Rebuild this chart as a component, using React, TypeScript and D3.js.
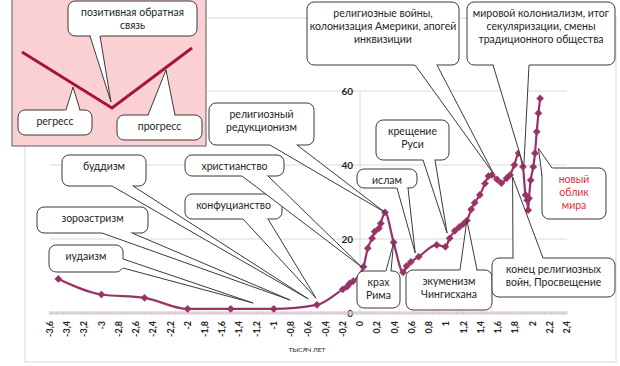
import React from "react";
import * as d3 from "d3";

// ---- data (thousands of years, index value) ----
const years: number[] = [
  -3.5, -3.0, -2.5, -2.0, -1.5, -1.0, -0.5, -0.2, -0.15, -0.12, -0.08, 0.04, 0.09, 0.14, 0.17, 0.22,
  0.24, 0.29, 0.39, 0.5, 0.54, 0.59, 0.68, 0.89, 0.99, 1.04, 1.1, 1.15, 1.2, 1.24, 1.29, 1.33, 1.39,
  1.45, 1.49, 1.53, 1.59, 1.64, 1.7, 1.74, 1.79, 1.84, 1.89, 1.92, 1.94, 1.95, 1.96, 1.98, 2.01,
  2.03, 2.05, 2.07, 2.09,
];
const values: number[] = [
  9.2, 5.0, 4.1, 1.1, 1.1, 1.1, 2.2, 6.4, 7.1, 8.0, 8.6, 12.5, 17.5, 20.2, 22.0, 22.9,
  24.2, 27.2, 19.1, 11.0, 12.7, 13.8, 15.2, 18.4, 17.9, 20.2, 22.2, 23.2, 24.1, 25.0, 28.0, 29.8, 31.9,
  35.0, 37.0, 37.3, 36.1, 35.1, 36.4, 37.3, 40.0, 43.2, 39.5, 31.9, 30.5, 27.8, 31.0, 35.9, 39.5,
  43.2, 49.0, 54.0, 58.0,
];
const xTicks: number[] = d3.range(-18, 13).map((i) => i / 5);
const yTicks: number[] = [0, 20, 40, 60];
const yGrid: number[] = [20, 40, 60];

// callouts: text, tip in data units (t, v)
const calloutTexts: string[][] = [
  ["иудаизм"],
  ["зороастризм"],
  ["буддизм"],
  ["конфуцианство"],
  ["христианство"],
  ["религиозный", "редукционизм"],
  ["ислам"],
  ["крещение", "Руси"],
  ["крах", "Рима"],
  ["экуменизм", "Чингисхана"],
  ["конец религиозных", "войн, Просвещение"],
  ["новый", "облик", "мира"],
  ["религиозные войны,", "колонизация Америки, апогей", "инквизиции"],
  ["мировой колониализм, итог", "секуляризации, смены", "традиционного общества"],
];
const calloutTips: [number, number][] = [
  [-1.24, 2.7],
  [-0.81, 3.5],
  [-0.6, 3.8],
  [-0.51, 4.0],
  [0.02, 12.4],
  [0.29, 27.2],
  [0.64, 16.2],
  [1.01, 21.6],
  [0.39, 19.0],
  [1.24, 25.1],
  [1.77, 36.8],
  [2.07, 44.5],
  [1.55, 37.6],
  [1.9, 39.5],
];

// layout of boxes (pixels): x, y, w, h, base points
const boxes = [
  { x: 49, y: 245, w: 74, h: 27, b: [[123, 259], [123, 268]] },
  { x: 37, y: 207, w: 111, h: 26, b: [[102, 233], [132, 233]] },
  { x: 62, y: 155, w: 84, h: 31, b: [[112, 186], [133, 186]] },
  { x: 185, y: 194, w: 97, h: 25, b: [[243, 219], [268, 219]] },
  { x: 185, y: 155, w: 99, h: 21, b: [[242, 176], [268, 176]] },
  { x: 209, y: 103, w: 105, h: 42, b: [[270, 145], [297, 145]] },
  { x: 357, y: 169, w: 60, h: 19, b: [[397, 188], [408, 188]] },
  { x: 376, y: 120, w: 73, h: 40, b: [[423, 160], [435, 160]] },
  { x: 357, y: 271, w: 43, h: 37, b: [[386, 271], [391, 271]] },
  { x: 406, y: 270, w: 86, h: 40, b: [[460, 270], [477, 270]] },
  { x: 492, y: 258, w: 123, h: 39, b: [[513, 258], [543, 258]] },
  { x: 542, y: 168, w: 64, h: 51, b: [[542, 176], [552, 168]] },
  { x: 307, y: 2, w: 152, h: 63, b: [[415, 65], [437, 65]] },
  { x: 467, y: 2, w: 148, h: 63, b: [[493, 65], [529, 65]] },
];
const calloutColors: string[] = calloutTexts.map((_, i) => (i === 11 ? "#e0303c" : "#262626"));

// inset diagram
const insetV: [number, number][] = [[22, 52], [112, 108], [192, 48]];
const insetTexts: string[][] = [["позитивная обратная", "связь"], ["регресс"], ["прогресс"]];
const insetBoxes = [
  { x: 68, y: 1, w: 129, h: 35, b: [[90, 36], [100, 36]], tip: [111, 102] },
  { x: 18, y: 110, w: 74, h: 25, b: [[66, 110], [80, 110]], tip: [73, 87] },
  { x: 117, y: 115, w: 85, h: 25, b: [[148, 115], [175, 115]], tip: [166, 70] },
];

const FONT = "Lato, 'Open Sans', sans-serif";

function Callout({ box, tip, lines, color }: any) {
  const cx = box.x + box.w / 2;
  const cy = box.y + box.h / 2;
  const [b1, b2] = box.b;
  const inset = (p: number[]) => {
    const dx = cx - p[0];
    const dy = cy - p[1];
    const l = Math.hypot(dx, dy) || 1;
    return [p[0] + (dx / l) * 3, p[1] + (dy / l) * 3];
  };
  const i1 = inset(b1);
  const i2 = inset(b2);
  const poly = [b1, tip, b2, i2, i1].map((p) => p.join(",")).join(" ");
  return (
    <g>
      <rect x={box.x} y={box.y} width={box.w} height={box.h} rx={7} fill="#fff" stroke="#3a3a3a" strokeWidth={1} />
      <polygon points={poly} fill="#fff" stroke="none" />
      <polyline points={[b1, tip, b2].map((p) => p.join(",")).join(" ")} fill="none" stroke="#3a3a3a" strokeWidth={1} />
      {lines.map((t: string, k: number) => (
        <text key={k} x={cx} y={box.y + 15 + k * 13} textAnchor="middle" fontSize={10.5} fill={color} fontFamily={FONT}>
          {t}
        </text>
      ))}
    </g>
  );
}

export default function App() {
  const x = d3.scaleLinear().domain([-3.6, 2.4]).range([49.7, 566.9]);
  const y = d3.scaleLinear().domain([0, 60]).range([313, 91]);
  const pts: [number, number][] = years.map((t, i) => [x(t), y(values[i])]);
  const line = d3.line().curve(d3.curveMonotoneX)(pts) || "";
  const minor = d3.range(-180, 121).map((i) => i / 50);
  const fmt = (t: number) => String(+t.toFixed(1)).replace(".", ",");
  const diamond = (cx: number, cy: number) => `M${cx},${cy - 3.6}L${cx + 3.6},${cy}L${cx},${cy + 3.6}L${cx - 3.6},${cy}Z`;

  return (
    <svg width={620} height={366} style={{ position: "absolute", left: 0, top: 0, background: "#fff" }} fontFamily={FONT}>
      <rect x={0} y={0} width={620} height={366} fill="#fff" />
      <rect x={25} y={18} width={591} height={344} fill="none" stroke="#d9d9d9" strokeWidth={1} />
      {/* grid */}
      {yGrid.map((v) => (
        <line key={v} x1={x(-3.6)} x2={x(2.4)} y1={y(v)} y2={y(v)} stroke="#d9d9d9" strokeWidth={1} />
      ))}
      {/* y axis */}
      <line x1={x(0)} x2={x(0)} y1={y(60)} y2={y(0)} stroke="#d9d9d9" strokeWidth={1} />
      {yTicks.map((v) => (
        <text key={v} x={353} y={y(v)} dy="0.35em" textAnchor="end" fontSize={10} fontWeight="bold" fill="#262626" fontFamily={FONT}>
          {v}
        </text>
      ))}
      {/* x axis with minor ticks */}
      <line x1={x(-3.6)} x2={x(2.4)} y1={y(0)} y2={y(0)} stroke="#d6c4cc" strokeWidth={1} />
      {minor.map((t, i) => (
        <line key={i} x1={x(t)} x2={x(t)} y1={y(0) - 2} y2={y(0) + 2} stroke="#d0bcc6" strokeWidth={0.8} />
      ))}
      {xTicks.map((t, i) => (
        <text
          key={i}
          transform={`translate(${x(t)},321) rotate(-90)`}
          dy="0.35em"
          textAnchor="end"
          fontSize={9}
          fontWeight="bold"
          fill="#262626"
          fontFamily={FONT}
        >
          {fmt(t)}
        </text>
      ))}
      <text x={307} y={352} textAnchor="middle" fontSize={6.5} fill="#262626" fontFamily={FONT}>
        ТЫСЯЧ ЛЕТ
      </text>
      {/* series */}
      <path d={line} fill="none" stroke="#993366" strokeWidth={2.2} />
      {pts.map((p, i) => (
        <path key={i} d={diamond(p[0], p[1])} fill="#993366" stroke="#993366" strokeWidth={0.5} />
      ))}
      {/* callouts */}
      {boxes.map((b, i) => (
        <Callout
          key={i}
          box={b}
          tip={[x(calloutTips[i][0]), y(calloutTips[i][1])]}
          lines={calloutTexts[i]}
          color={calloutColors[i]}
        />
      ))}
      {/* inset */}
      <rect x={12} y={-1} width={194} height={147} fill="#fbd0d3" stroke="#5a5a5a" strokeWidth={1} />
      <polyline points={insetV.map((p) => p.join(",")).join(" ")} fill="none" stroke="#a3153d" strokeWidth={3} />
      {insetBoxes.map((b, i) => (
        <Callout key={i} box={b} tip={b.tip} lines={insetTexts[i]} color="#262626" />
      ))}
    </svg>
  );
}
